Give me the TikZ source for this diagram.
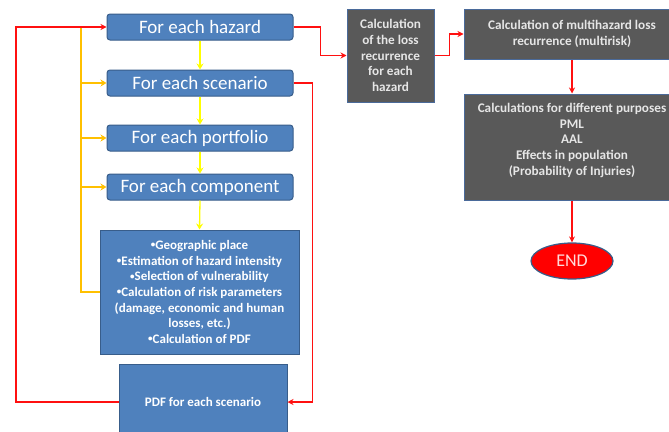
\documentclass[tikz,border=0pt]{standalone}
\usepackage{fontspec}
\setmainfont{Carlito}
\usetikzlibrary{arrows.meta,shapes.geometric,calc}
\definecolor{boxblue}{HTML}{4F81BD}
\definecolor{boxedge}{HTML}{385D8A}
\definecolor{boxgrey}{HTML}{595959}
\definecolor{greyedge}{HTML}{4A6A9A}
\definecolor{greytext}{HTML}{E6E6E6}
\definecolor{redline}{HTML}{FF1010}
\definecolor{yelline}{HTML}{FFFF00}
\definecolor{oraline}{HTML}{FFC000}
\newcommand{\bul}{\raisebox{1.8pt}{\fontsize{9}{9}\selectfont•}}
\tikzset{
  forbox/.style={draw=boxedge, line width=1pt, fill=boxblue, rounded corners=3pt,
    minimum width=186pt, minimum height=26pt, inner sep=0pt, text=white, font=\fontsize{19}{21}\selectfont},
  bluebox/.style={draw=boxedge, line width=1pt, fill=boxblue, inner sep=0pt, text=white,
    align=center, font=\bfseries\fontsize{13}{15.7}\selectfont},
  greybox/.style={draw=greyedge, line width=1pt, fill=boxgrey, inner sep=0pt, text=greytext,
    align=center, font=\bfseries\fontsize{13.2}{15.7}\selectfont},
  redarrow/.style={draw=redline, line width=1.2pt, -{Stealth[length=6pt,width=6pt]}},
  redline/.style={draw=redline, line width=1.2pt},
  yelarrow/.style={draw=yelline, line width=1.3pt, -{Stealth[length=6pt,width=7pt]}},
  oraarrow/.style={draw=oraline, line width=1.6pt, -{Stealth[length=6pt,width=7pt]}},
  oraline/.style={draw=oraline, line width=1.8pt},
}
\begin{document}
\begin{tikzpicture}[x=1pt,y=-1pt]
\clip (0,0) rectangle (669,431);
\fill[white] (0,0) rectangle (669,431);
% left column
\node[forbox] (haz) at (200,27) {For each hazard};
\node[forbox] (scen) at (200,83) {For each scenario};
\node[forbox] (port) at (200,138) {For each portfolio};
\node[forbox] (comp) at (200,187) {For each component};
\node[bluebox, minimum width=199pt, minimum height=124pt] (big) at (199.5,292)
  {\bul Geographic place\\ \bul Estimation of hazard intensity\\ \bul Selection of vulnerability\\
   \bul Calculation of risk parameters\\ (damage, economic and human\\ losses, etc.)\\ \bul Calculation of PDF};
\node[bluebox, minimum width=168pt, minimum height=76pt] (pdf) at (203,402) {PDF for each scenario};
% right side
\node[greybox, minimum width=87pt, minimum height=93pt] (loss) at (390.5,55.5)
  {Calculation\\ of the loss\\ recurrence\\ for each\\ hazard};
\node[greybox, minimum width=216pt, minimum height=50pt] (multi) at (572,34)
  {Calculation of multihazard loss\\ recurrence (multirisk)};
\node[greybox, minimum width=216pt, minimum height=106pt] (calc) at (572,147)
  {Calculations for different purposes\\ PML\\ AAL\\ Effects in population\\ (Probability of Injuries)\\ \mbox{}};
\node[draw=boxedge, line width=1.2pt, fill=red, ellipse, minimum width=82pt, minimum height=36pt,
  inner sep=0pt, text=white!85!red, font=\fontsize{18}{20}\selectfont] (end) at (572,261) {END};
% yellow arrows
\draw[yelarrow] (haz.south) -- (scen.north);
\draw[yelarrow] (scen.south) -- (port.north);
\draw[yelarrow] (port.south) -- (comp.north);
\draw[yelarrow] (comp.south) -- (big.north);
% orange lines
\coordinate (O) at (81,27);
\draw[oraline] (O) |- (big.west);
\draw[oraarrow] (O |- scen.west) -- (scen.west);
\draw[oraarrow] (O |- port.west) -- (port.west);
\draw[oraarrow] (O |- comp.west) -- (comp.west);
% red loops
\coordinate (L) at (16,27);
\draw[redarrow] (pdf.west) -| (L) -- (haz.west);
\draw[redarrow] (scen.east) -- ++(19,0) |- (pdf.east);
\draw[redarrow] (haz.east) -- ++(27,0) |- (loss.west);
\draw[redarrow] (loss.east) -- ++(15,0) |- (multi.west);
\draw[redarrow] (multi.south) -- (calc.north);
\draw[redarrow] (calc.south) -- (end.north);
\end{tikzpicture}
\end{document}
